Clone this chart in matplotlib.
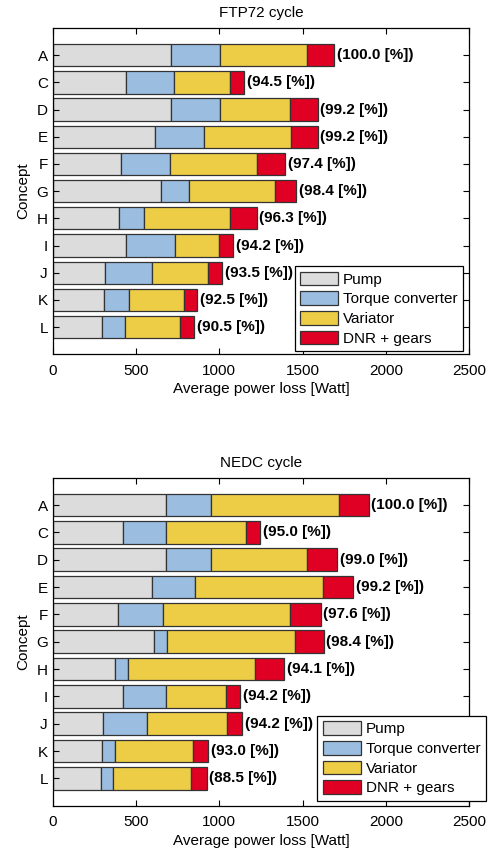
import matplotlib
matplotlib.use("Agg")
import matplotlib.pyplot as plt
import numpy as np

plt.rcParams['font.family'] = ['Liberation Sans', 'DejaVu Sans']

concepts = ["A", "C", "D", "E", "F", "G", "H", "I", "J", "K", "L"]
components = ["Pump", "Torque converter", "Variator", "DNR + gears"]
colors = ["#dcdcdc", "#9bbde0", "#edcd45", "#e00024"]

# Average power loss per component [W]
ftp_pump = [712, 442, 712, 614, 412, 650, 400, 442, 316, 310, 298]
ftp_tc = [294, 288, 294, 296, 294, 166, 146, 294, 282, 150, 138]
ftp_var = [522, 334, 420, 522, 522, 516, 518, 264, 334, 328, 328]
ftp_dnr = [162, 86, 164, 158, 168, 130, 160, 82, 86, 80, 86]
ftp_rel = [100.0, 94.5, 99.2, 99.2, 97.4, 98.4, 96.3, 94.2, 93.5, 92.5, 90.5]

nedc_pump = [682, 420, 682, 594, 390, 608, 376, 420, 302, 296, 292]
nedc_tc = [266, 262, 266, 262, 270, 80, 78, 262, 266, 80, 70]
nedc_var = [772, 476, 580, 768, 766, 766, 762, 356, 480, 468, 470]
nedc_dnr = [178, 88, 180, 180, 182, 172, 174, 88, 90, 88, 92]
nedc_rel = [100.0, 95.0, 99.0, 99.2, 97.6, 98.4, 94.1, 94.2, 94.2, 93.0, 88.5]

xticks = [0, 500, 1000, 1500, 2000, 2500]

W, H = 492, 849
fig = plt.figure(figsize=(W / 100, H / 100), dpi=100)

# panel boxes (left, top, right, bottom) and legend anchor (right, bottom) in pixels
panels = [
    dict(box=(52.7, 28.0, 469.3, 354.3), leg=(463.0, 351.0), title="FTP72 cycle",
         parts=(ftp_pump, ftp_tc, ftp_var, ftp_dnr), rel=ftp_rel),
    dict(box=(52.7, 477.7, 469.3, 805.7), leg=(485.5, 800.7), title="NEDC cycle",
         parts=(nedc_pump, nedc_tc, nedc_var, nedc_dnr), rel=nedc_rel),
]

FS = 11


def draw(ax, parts, rel, title, leg_anchor):
    y = np.arange(1, len(concepts) + 1)
    left = np.zeros(len(concepts))
    for vals, col, name in zip(parts, colors, components):
        vals = np.array(vals, dtype=float)
        ax.barh(y, vals, left=left, height=0.82, color=col,
                edgecolor="#333333", linewidth=0.9, label=name)
        left = left + vals
    for yi, tot, r in zip(y, left, rel):
        ax.text(tot + 15, yi, f"({r:.1f} [%])", va="center", ha="left",
                fontsize=FS, fontweight="bold")
    ax.set_xlim(0, 2500)
    ax.set_ylim(len(concepts) + 1, 0)
    ax.set_yticks(y)
    ax.set_yticklabels(concepts)
    ax.set_xticks(xticks)
    ax.tick_params(direction="in", top=True, right=True, labelsize=FS,
                   length=4, width=0.8)
    ax.tick_params(axis="x", pad=7)
    ax.set_xlabel("Average power loss [Watt]", fontsize=FS, labelpad=3)
    ax.set_ylabel("Concept", fontsize=FS, labelpad=4)
    ax.set_title(title, fontsize=FS, pad=8)
    for s in ax.spines.values():
        s.set_linewidth(0.9)
    leg = ax.legend(loc="lower right", bbox_to_anchor=leg_anchor,
                    bbox_transform=None, fontsize=FS, handlelength=2.5,
                    handleheight=1.0, labelspacing=0.3, handletextpad=0.3,
                    borderpad=0.35, borderaxespad=0.0, fancybox=False,
                    framealpha=1, edgecolor="black")
    leg.get_frame().set_linewidth(0.9)
    return leg


for p in panels:
    x0, y0, x1, y1 = p["box"]
    ax = fig.add_axes([x0 / W, 1 - y1 / H, (x1 - x0) / W, (y1 - y0) / H])
    lx, ly = p["leg"]
    anchor = (lx / W, 1 - ly / H)
    leg = draw(ax, p["parts"], p["rel"], p["title"], anchor)
    leg.set_bbox_to_anchor(anchor, transform=fig.transFigure)

fig.savefig("out.png", dpi=100)
